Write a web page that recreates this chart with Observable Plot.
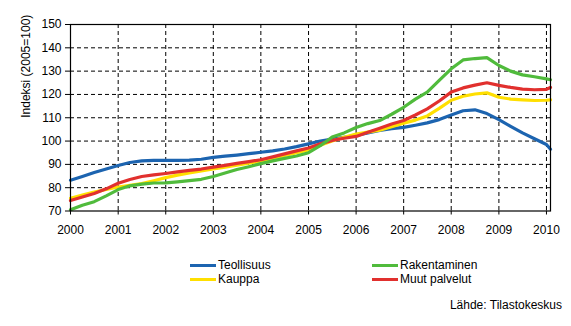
<!DOCTYPE html>
<html>
<head>
<meta charset="utf-8">
<script src="https://cdn.jsdelivr.net/npm/d3@7"></script>
<script src="https://cdn.jsdelivr.net/npm/@observablehq/plot@0.6"></script>
<style>
  body { margin: 0; background: white; font-family: "Liberation Sans", Arial, sans-serif; }
  #wrap { position: relative; width: 571px; height: 326px; background: white; }
  .leg { position: absolute; font-size: 12px; color: #000; line-height: 14px; white-space: nowrap; }
  .sw { position: absolute; height: 3px; width: 26px; }
</style>
</head>
<body>
<div id="wrap"></div>
<script>
// ---- data (quarterly readings, index 2005=100) ----
const dates = [
  "2000-01","2000-04","2000-07","2000-10",
  "2001-01","2001-04","2001-07","2001-10",
  "2002-01","2002-04","2002-07","2002-10",
  "2003-01","2003-04","2003-07","2003-10",
  "2004-01","2004-04","2004-07","2004-10",
  "2005-01","2005-04","2005-07","2005-10",
  "2006-01","2006-04","2006-07","2006-10",
  "2007-01","2007-04","2007-07","2007-10",
  "2008-01","2008-04","2008-07","2008-10",
  "2009-01","2009-04","2009-07","2009-10",
  "2010-01","2010-02"
];
const teollisuus = [
  83.2, 84.8, 86.5, 88.0,
  89.5, 90.8, 91.5, 91.7,
  91.7, 91.7, 91.8, 92.2,
  93.0, 93.5, 94.0, 94.6,
  95.2, 95.8, 96.6, 97.6,
  98.8, 100.0, 100.8, 101.6,
  102.4, 103.5, 104.6, 105.3,
  105.9, 106.8, 107.8, 109.2,
  111.2, 113.0, 113.4, 111.8,
  109.2, 106.3, 103.5, 101.0,
  98.5, 96.5
];
const rakentaminen = [
  70.5, 72.5, 74.0, 76.5,
  79.2, 80.8, 81.5, 82.0,
  82.1, 82.5, 83.0, 83.6,
  84.8, 86.3, 87.8, 89.0,
  90.3, 91.5, 92.6, 93.6,
  95.0, 98.0, 101.7, 103.5,
  105.8, 107.5, 108.8, 111.5,
  114.5, 118.0, 121.0, 126.0,
  131.0, 134.8, 135.4, 135.8,
  132.4, 130.0, 128.4, 127.6,
  126.7, 126.3
];
const kauppa = [
  75.5, 76.8, 78.1, 79.2,
  80.3, 81.0, 81.8, 83.0,
  84.3, 85.4, 86.3, 87.2,
  88.0, 88.8, 89.7, 90.5,
  91.4, 92.6, 93.8, 95.0,
  96.2, 98.2, 100.0, 101.6,
  103.0, 103.8, 104.7, 106.2,
  107.7, 109.0, 110.8, 114.0,
  117.5, 119.2, 120.2, 120.7,
  118.8, 118.0, 117.7, 117.4,
  117.5, 117.7
];
const muutPalvelut = [
  74.5, 76.0, 77.5, 79.5,
  81.9, 83.5, 84.8, 85.5,
  86.1, 86.8, 87.4, 88.0,
  88.8, 89.6, 90.4, 91.2,
  92.0, 93.2, 94.5, 95.8,
  97.0, 98.8, 100.3, 101.2,
  102.0, 103.8, 105.5, 107.3,
  108.8, 111.2, 113.8, 117.2,
  121.0, 122.8, 124.0, 125.0,
  123.9, 123.0, 122.3, 122.0,
  122.2, 123.0
];
const seriesNames = ["Teollisuus", "Rakentaminen", "Kauppa", "Muut palvelut"];
const seriesValues = [teollisuus, rakentaminen, kauppa, muutPalvelut];
const seriesColors = ["#1c64b0", "#50bb3c", "#ffdf00", "#e1302e"];
const drawOrder = ["Teollisuus", "Kauppa", "Muut palvelut", "Rakentaminen"];
const yTicks = [70, 80, 90, 100, 110, 120, 130, 140, 150];
const yGrid = [80, 90, 100, 110, 120, 130, 140];
const xTickYears = ["2000","2001","2002","2003","2004","2005","2006","2007","2008","2009","2010"];
const yLabel = "Indeksi (2005=100)";
const sourceText = "Lähde: Tilastokeskus";

// ---- build table ----
const parse = d3.utcParse("%Y-%m");
const rows = [];
for (const name of drawOrder) {
  const i = seriesNames.indexOf(name);
  dates.forEach((d, j) => rows.push({date: parse(d), value: seriesValues[i][j], series: name}));
}
const xTicks = xTickYears.map(y => d3.utcParse("%Y")(y));

const chart = Plot.plot({
  width: 571,
  height: 240,
  marginLeft: 70,
  marginRight: 21,
  marginTop: 24,
  marginBottom: 29.5,
  style: {fontFamily: "'Liberation Sans', Arial, sans-serif", fontSize: "12px", color: "#000", background: "white", overflow: "visible"},
  x: {type: "utc", domain: [parse("2000-01"), parse("2010-02")]},
  y: {domain: [70, 150]},
  color: {domain: seriesNames, range: seriesColors},
  marks: [
    Plot.gridY(yGrid, {stroke: "#000", strokeOpacity: 1, strokeDasharray: "4,3", strokeWidth: 1}),
    Plot.gridX(xTicks.slice(1), {stroke: "#000", strokeOpacity: 1, strokeDasharray: "4,3", strokeWidth: 1}),
    Plot.line(rows, {x: "date", y: "value", z: "series", stroke: "series", strokeWidth: 3.2, curve: "linear"}),
    Plot.frame({stroke: "#000", strokeWidth: 1.2}),
    Plot.axisY(yTicks, {tickSize: 5, tickPadding: 4, label: null, tickFormat: d => String(d), fontSize: 12}),
    Plot.axisX(xTicks, {tickSize: 4, tickPadding: 10, label: null, tickFormat: d3.utcFormat("%Y"), fontSize: 12}),
    Plot.text([yLabel], {frameAnchor: "left", rotate: -90, dx: -44, fontSize: 12, lineAnchor: "middle"})
  ]
});

const wrap = document.getElementById("wrap");
chart.style.position = "absolute";
chart.style.left = "0px";
chart.style.top = "0px";
wrap.appendChild(chart);

// ---- legend ----
const legendPos = {
  "Teollisuus": [190, 265],
  "Kauppa": [190, 279],
  "Rakentaminen": [372, 265],
  "Muut palvelut": [372, 279]
};
seriesNames.forEach((name, i) => {
  const [lx, ly] = legendPos[name];
  const sw = document.createElement("div");
  sw.className = "sw";
  sw.style.left = lx + "px";
  sw.style.top = (ly - 1.5) + "px";
  sw.style.background = seriesColors[i];
  wrap.appendChild(sw);
  const t = document.createElement("div");
  t.className = "leg";
  t.style.left = (lx + 28) + "px";
  t.style.top = (ly - 7) + "px";
  t.textContent = name;
  wrap.appendChild(t);
});
const src = document.createElement("div");
src.className = "leg";
src.style.right = (571 - 562) + "px";
src.style.top = "298px";
src.textContent = sourceText;
wrap.appendChild(src);
</script>
</body>
</html>
